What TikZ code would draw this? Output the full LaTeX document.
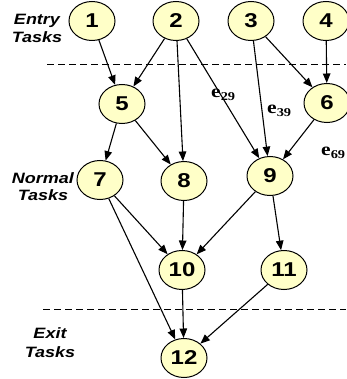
\documentclass[tikz,border=0pt]{standalone}
\usepackage{graphicx}
\usepackage{fontspec}
\setmainfont{Liberation Sans}
\newfontfamily\serifbf{Liberation Serif}
\usetikzlibrary{shapes.geometric,arrows.meta}
\definecolor{taskfill}{HTML}{FFFFC8}
\newcommand\hs[1]{\scalebox{1.2}[1]{#1}}
\newcommand\elab[2]{\hs{#1\raisebox{-2.5pt}{\fontsize{12}{12}\selectfont #2}}}
\tikzset{
 task/.style={ellipse, draw, line width=1pt, fill=taskfill, minimum width=46pt, minimum height=39pt, inner sep=0pt, font=\bfseries\fontsize{20}{20}\selectfont},
 lbl/.style={anchor=base, inner sep=0pt, font=\bfseries\itshape\fontsize{15}{15}\selectfont},
 elbl/.style={anchor=base west, inner sep=0pt, font=\serifbf\bfseries\fontsize{18}{18}\selectfont},
 edge/.style={line width=1.1pt, -{Triangle[length=9.5pt,width=7.5pt]}},
 sepline/.style={line width=1pt, dash pattern=on 7pt off 4pt},
}
\begin{document}
\begin{tikzpicture}[x=1pt,y=-1pt]
\useasboundingbox (0,0) rectangle (346,379);
% separators
\coordinate (d1a) at (47,65); \coordinate (d1b) at (346,65);
\coordinate (d2a) at (43,309); \coordinate (d2b) at (346,309);
\draw[sepline] (d1a) -- (d1b);
\draw[sepline] (d2a) -- (d2b);
% labels
\node[lbl] (entry) at (37,25) {\hs{Entry}};
\node[lbl] (entryt) at (37,43) {\hs{Tasks}};
\node[lbl] (normal) at (43,183) {\hs{Normal}};
\node[lbl] (normalt) at (43,200) {\hs{Tasks}};
\node[lbl] (exit) at (50,338) {\hs{Exit}};
\node[lbl] (exitt) at (50,357) {\hs{Tasks}};
% tasks
\node[task] (n1) at (92,21) {\hs{1}};
\node[task] (n2) at (176,21) {\hs{2}};
\node[task] (n3) at (251,21) {\hs{3}};
\node[task] (n4) at (326,21) {\hs{4}};
\node[task] (n5) at (122,104) {\hs{5}};
\node[task] (n6) at (327,103) {\hs{6}};
\node[task] (n7) at (100,180) {\hs{7}};
\node[task] (n8) at (184,181) {\hs{8}};
\node[task] (n9) at (270,176) {\hs{9}};
\node[task] (n10) at (182,270) {\hs{10}};
\node[task] (n11) at (284,270) {\hs{11}};
\node[task] (n12) at (184,358) {\hs{12}};
% edges
\draw[edge] (n1) -- (n5);
\draw[edge] (n2) -- (n5);
\draw[edge] (n2) -- (n8);
\draw[edge] (n2) -- (n9);
\draw[edge] (n3) -- (n9);
\draw[edge] (n3) -- (n6);
\draw[edge] (n4) -- (n6);
\draw[edge] (n5) -- (n7);
\draw[edge] (n5) -- (n8);
\draw[edge] (n6) -- (n9);
\draw[edge] (n7) -- (n10);
\draw[edge] (n7) -- (n12);
\draw[edge] (n8) -- (n10);
\draw[edge] (n9) -- (n10);
\draw[edge] (n9) -- (n11);
\draw[edge] (n10) -- (n12);
\draw[edge] (n11) -- (n12);
% edge labels
\node[elbl] (e29) at (211,98) {\elab{e}{29}};
\node[elbl] (e39) at (267,114) {\elab{e}{39}};
\node[elbl] (e69) at (321,156) {\elab{e}{69}};
\end{tikzpicture}
\end{document}
